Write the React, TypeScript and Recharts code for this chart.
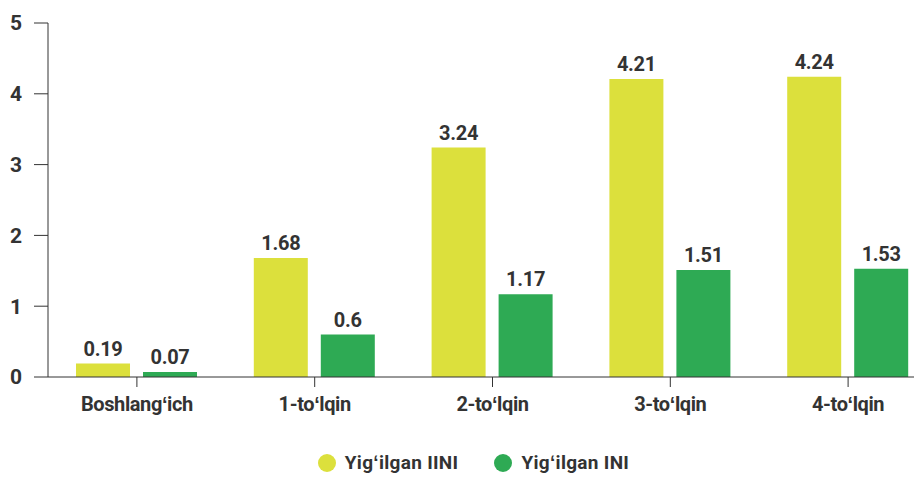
import { BarChart, Bar, XAxis, YAxis, Legend, LabelList } from "recharts"

const categories = ["Boshlangʻich", "1-toʻlqin", "2-toʻlqin", "3-toʻlqin", "4-toʻlqin"]
const iiniValues = [0.19, 1.68, 3.24, 4.21, 4.24]
const iniValues = [0.07, 0.6, 1.17, 1.51, 1.53]
const yTicks = [0, 1, 2, 3, 4, 5]

const data = categories.map((name, i) => ({
  name,
  iini: iiniValues[i],
  ini: iniValues[i],
}))

const FONT = "Roboto, sans-serif"
const TEXT = "#333333"
const YELLOW = "#DCE03C"
const GREEN = "#2EAA54"

const labelStyle = { fill: TEXT, fontSize: 20, fontWeight: 700, fontFamily: FONT, letterSpacing: -0.3 }

function LegendContent({ payload }: any) {
  return (
    <div style={{ display: "flex", justifyContent: "center", alignItems: "center", fontFamily: FONT, paddingLeft: 10 }}>
      {(payload || []).map((p: any, i: number) => (
        <div key={i} style={{ display: "flex", alignItems: "center", marginRight: i === 0 ? 36 : 0 }}>
          <span
            style={{
              display: "inline-block",
              width: 18,
              height: 18,
              borderRadius: 9,
              background: p.color,
              marginRight: 9,
            }}
          />
          <span style={{ color: TEXT, fontSize: 19, fontWeight: 700, letterSpacing: 0.3 }}>{p.value}</span>
        </div>
      ))}
    </div>
  )
}

export default function App() {
  return (
    <div style={{ margin: -8, width: 922, height: 482, overflow: "hidden", background: "#fff" }}>
      <BarChart
        width={940}
        height={482}
        data={data}
        margin={{ top: 23, right: 3, left: 0, bottom: 3 }}
        barSize={54}
        barGap={13}
      >
        <XAxis
          dataKey="name"
          stroke={TEXT}
          tickSize={10}
          tickMargin={10}
          height={74}
          tick={{ fill: TEXT, fontSize: 20, fontWeight: 700, fontFamily: FONT, letterSpacing: -0.4 }}
        />
        <YAxis
          domain={[0, 5]}
          ticks={yTicks}
          width={48}
          stroke={TEXT}
          tickSize={14}
          tickMargin={12}
          tick={{ fill: TEXT, fontSize: 21, fontWeight: 700, fontFamily: FONT }}
        />
        <Legend
          verticalAlign="bottom"
          wrapperStyle={{ height: 28 }}
          content={<LegendContent />}
        />
        <Bar dataKey="iini" name="Yigʻilgan IINI" fill={YELLOW} isAnimationActive={false}>
          <LabelList dataKey="iini" position="top" offset={8} style={labelStyle} />
        </Bar>
        <Bar dataKey="ini" name="Yigʻilgan INI" fill={GREEN} isAnimationActive={false}>
          <LabelList dataKey="ini" position="top" offset={8} style={labelStyle} />
        </Bar>
      </BarChart>
    </div>
  )
}
